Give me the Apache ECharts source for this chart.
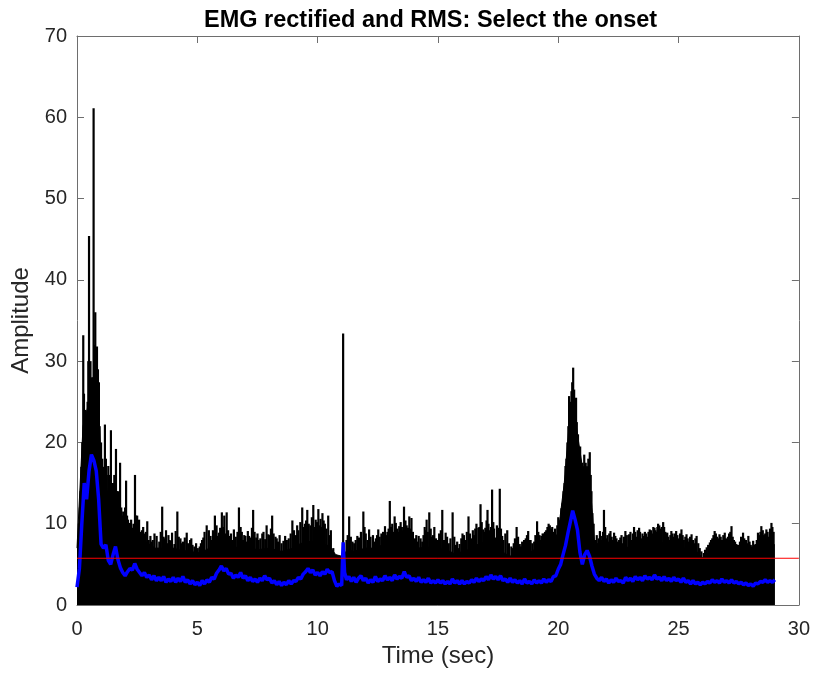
<!DOCTYPE html>
<html>
<head>
<meta charset="utf-8">
<script src="https://cdn.jsdelivr.net/npm/echarts@6/dist/echarts.min.js"></script>
<style>
html,body{margin:0;padding:0;background:#fff;}
#chart{width:813px;height:673px;}
</style>
</head>
<body>
<div id="chart"></div>
<script>
// Axis ticks
var xTicks = [0, 5, 10, 15, 20, 25, 30];
var yTicks = [0, 10, 20, 30, 40, 50, 60, 70];

// Dense (solid) part of the rectified EMG: [time (s), top of solid black]
var emgFloor = [
[0,7],[0.25,22],[0.5,25],[0.75,28],[0.9,24],[1,18],[1.25,14],[1.5,12],[1.75,11],[2,9],[2.25,9],[2.5,8.5],[2.75,8],
[3,7.5],[3.25,7],[3.5,7],[3.75,6.8],[4,7],[4.25,6.8],[4.5,6.7],[4.75,6.6],[5,6.4],[5.25,6.6],[5.5,7],[5.75,7.5],
[6,7.8],[6.25,7.5],[6.5,7],[6.75,7.2],[7,7],[7.25,7],[7.5,6.8],[7.75,6.9],[8,7],[8.25,6.8],[8.5,6.6],[8.75,6.8],
[9,7],[9.25,7.5],[9.5,7.8],[9.75,7.8],[10,8],[10.25,7.6],[10.5,7.2],[10.75,6.2],[11,6],[11.25,6.8],[11.5,6.6],[11.75,6.8],
[12,7],[12.25,7],[12.5,7.2],[12.75,7.4],[13,7.6],[13.25,7.6],[13.5,7.8],[13.75,7.6],[14,7.4],[14.25,7],[14.5,7.2],[14.75,7],
[15,7],[15.25,6.8],[15.5,6.6],[15.75,6.2],[16,6.6],[16.25,6.8],[16.5,7.2],[16.75,7.6],[17,7.8],[17.25,7.6],[17.5,7.2],[17.75,6.4],
[18,6],[18.25,6.6],[18.5,6.2],[18.75,6.4],[19,6.8],[19.25,7],[19.5,7.6],[19.75,7.4],[20,9],[20.25,15],[20.5,24],[20.75,22],
[21,17],[21.25,17],[21.4,12],[21.5,8],[21.75,7],[22,6.8],[22.25,7],[22.5,6.8],[22.75,7],[23,7.2],[23.25,7.4],[23.5,7.2],[23.75,7.4],
[24,7.6],[24.25,7.8],[24.5,7.4],[24.75,7.2],[25,7],[25.25,7],[25.5,6.8],[25.75,6.6],[26,5.8],[26.25,6.4],[26.5,7],[26.75,7.2],
[27,7.2],[27.25,6.8],[27.5,6.4],[27.75,6.6],[28,6.2],[28.25,6.8],[28.5,7.4],[28.75,7.6],[29,7.4]
];

// Individual spikes of the rectified EMG: [time (s), peak amplitude]
var emgSpikes = [
[0.05,8.5],[0.12,12],[0.18,17],[0.26,33.2],[0.32,22],[0.38,19],[0.44,25],[0.5,45.4],[0.56,30],[0.62,28],[0.69,61.1],[0.76,36],
[0.83,31.8],[0.91,27.4],[0.97,19],[1.05,18],[1.16,22.2],[1.24,16],[1.3,17.1],[1.41,21.5],[1.5,15],[1.62,19.2],[1.7,14],[1.79,17.5],
[1.88,11],[1.96,10],[2.04,15.3],[2.12,10.5],[2.2,10.1],[2.3,9.5],[2.41,16],[2.5,11],[2.58,10.5],[2.7,9.2],[2.8,8.8],[2.92,10.3],
[3.05,8.5],[3.15,8],[3.31,8.5],[3.42,7.8],[3.54,12.1],[3.65,8.2],[3.75,7.6],[3.85,8],[3.95,8.9],[4.05,7.5],[4.17,11.5],[4.3,8.2],
[4.4,7.8],[4.56,8.9],[4.7,8],[4.8,7.4],[4.95,7.6],[5.1,7.2],[5.2,8],[5.3,9],[5.39,9.8],[5.48,9.2],[5.6,8],[5.73,11],
[5.85,8.5],[5.95,9.5],[6.02,11.4],[6.12,11],[6.22,11.4],[6.35,8.5],[6.45,8],[6.6,8.4],[6.73,12],[6.85,9],[6.95,8.6],[7.05,7.8],
[7.15,8.5],[7.32,11.7],[7.45,8.3],[7.55,8],[7.7,8.8],[7.88,9.8],[8,8.6],[8.11,11],[8.25,8.4],[8.35,7.8],[8.5,7.6],[8.65,8.5],
[8.8,8.2],[8.95,10.4],[9.1,8.6],[9.2,9.2],[9.36,12],[9.47,10],[9.57,11.7],[9.7,9.8],[9.82,12.3],[9.92,10.5],[10.03,11.8],[10.12,10.6],
[10.2,11.3],[10.3,10],[10.44,11],[10.55,9.2],[10.65,7],[11.06,33.4],[11.2,8],[11.31,10.9],[11.45,7.8],[11.65,8.5],[11.9,11.5],[12,8.8],
[12.14,9.3],[12.3,8.6],[12.42,8.2],[12.52,9.3],[12.65,8.8],[12.8,9.7],[12.9,9],[13,12.8],[13.1,10],[13.2,10.9],[13.3,9.4],[13.39,9.7],
[13.5,9.6],[13.59,12.1],[13.7,9.8],[13.81,10.9],[13.9,10.7],[14.05,8.2],[14.2,8.5],[14.35,7.8],[14.45,9.6],[14.53,10.5],[14.64,11.4],[14.75,8.4],
[14.85,9.6],[15,8],[15.18,11.7],[15.32,8.9],[15.45,7.6],[15.61,11.4],[15.8,7.8],[15.9,7.5],[16.02,8.8],[16.15,8],[16.27,10.9],[16.4,8.2],
[16.5,8.6],[16.6,10],[16.68,9.5],[16.77,12.4],[16.88,9.3],[16.97,9.5],[17.06,11.7],[17.15,9.2],[17.25,14.2],[17.33,9.4],[17.4,8.3],[17.5,9.5],
[17.57,14.3],[17.67,8.5],[17.88,9.2],[18.05,7.2],[18.15,7.6],[18.27,9.6],[18.4,7.5],[18.5,7.8],[18.65,8.2],[18.75,9.1],[18.85,8],[19,7.8],
[19.12,10.3],[19.22,8.6],[19.3,8.5],[19.4,8.8],[19.5,9.2],[19.6,10],[19.7,9.4],[19.8,9],[19.92,8.6],[20,10.8],[20.13,11.9],[20.22,14],
[20.3,17.1],[20.38,20],[20.45,25.7],[20.55,26.3],[20.62,29.2],[20.7,24.5],[20.77,22.5],[20.87,18.3],[20.95,16],[21.08,18.5],[21.2,16.7],[21.31,18.8],
[21.38,14],[21.42,11.3],[21.55,8],[21.63,7.6],[21.73,9.1],[21.82,8],[21.9,11.7],[22,8.2],[22.08,7.8],[22.17,9.1],[22.27,8],[22.37,8.5],
[22.48,7.8],[22.58,8.3],[22.68,7.6],[22.79,9.1],[22.94,8.7],[23.05,8],[23.15,9.6],[23.25,8.4],[23.36,9.5],[23.45,8.2],[23.55,8.5],[23.65,8.8],
[23.8,9.3],[23.9,8.8],[24,9.5],[24.08,9],[24.15,10],[24.25,9.4],[24.36,10.2],[24.45,9],[24.53,8.9],[24.62,8],[24.7,9.1],[24.8,8.4],
[24.9,9.1],[25,8.2],[25.12,9.3],[25.22,8],[25.33,8.7],[25.43,7.8],[25.54,8.7],[25.65,7.6],[25.75,8.5],[25.88,7],[26.17,7.1],[26.3,7.7],
[26.4,8.2],[26.5,9.1],[26.6,8.4],[26.7,8.7],[26.8,8],[26.92,8.9],[27.05,8.4],[27.2,9.7],[27.3,8],[27.4,7.5],[27.55,7.8],[27.68,8.9],
[27.8,8],[27.9,8.5],[28,7.4],[28.1,7.9],[28.2,7.5],[28.3,8.9],[28.44,9.7],[28.55,8.6],[28.65,9.3],[28.75,8.4],[28.86,10.1],[28.95,9],
// smaller spikes in between
[0.08,10],[0.15,14],[0.22,20],[0.29,26],[0.35,24],[0.41,22],[0.47,30],[0.53,26],[0.59,24],[0.65,28],[0.72,32],[0.79,30],
[0.87,29],[0.94,22],[1.0,20],[1.1,17],[1.2,18],[1.35,16],[1.45,15],[1.55,16],[1.66,14],[1.75,13],[1.84,12],[1.92,11.5],
[2.0,12],[2.08,11],[2.16,10],[2.25,10.5],[2.35,10],[2.45,11],[2.55,9.5],[2.62,9],[2.75,9.6],
[2.65,8.6],[2.86,9],[2.98,8],[3.1,7.8],[3.22,8.8],[3.48,9],[3.6,8.4],[3.7,9.2],[3.8,8.6],[3.9,7.9],[4.1,9.1],[4.23,8.4],
[4.35,7.6],[4.48,8.3],[4.62,7.6],[4.75,8.2],[4.88,7.2],[5.02,7],[5.15,7.6],[5.25,8.3],[5.55,8.5],[5.65,9.2],[5.8,9.8],[5.9,8.9],
[6.07,9.6],[6.17,8.8],[6.28,9.2],[6.4,8.8],[6.52,9.3],[6.67,9],[6.8,9.6],[6.9,8],[7.0,8.5],[7.1,9.1],[7.22,8.3],[7.27,9.5],
[7.38,9],[7.5,8.8],[7.62,8.2],[7.75,9],[7.82,8.1],[7.95,8.7],[8.06,9.4],[8.17,8.8],[8.3,8.2],[8.42,8.6],[8.58,7.9],[8.72,8],
[8.88,8.8],[9.02,9.2],[9.15,9.8],[9.28,10.2],[9.42,9.6],[9.52,10.4],[9.63,10],[9.76,10.8],[9.87,9.6],[9.97,10.2],[10.07,9.8],[10.16,9.6],
[10.25,10.4],[10.36,9.4],[10.5,8.6],[11.25,8.6],[11.38,8.4],[11.52,7.6],[11.58,8],[11.72,8.3],[11.8,9],[11.95,9.6],[12.07,8],[12.2,8.4],
[12.36,7.8],[12.47,8.6],[12.58,8.4],[12.72,9],[12.85,8.6],[12.95,9.4],[13.05,9.6],[13.15,9],[13.25,10.1],[13.35,9],[13.45,10.2],[13.55,9.2],
[13.65,10.4],[13.76,9.5],[13.86,9.4],[13.96,9],[14.1,8.6],[14.15,7.8],[14.28,8.2],[14.4,8.6],[14.5,9.2],[14.58,9],[14.7,9.4],[14.8,8.6],
[14.92,8.2],[15.05,8.8],[15.12,9.2],[15.25,8],[15.38,8.4],[15.52,8.2],[15.68,8.4],[15.75,7.4],[15.85,7],[15.97,8.2],[16.08,8.6],[16.2,9],
[16.33,8.8],[16.45,9.2],[16.55,9.4],[16.72,9.6],[16.82,10.2],[16.92,9],[17.02,10.4],[17.1,10],[17.2,9.6],[17.3,10.2],[17.45,9.8],[17.53,9],
[17.62,9.4],[17.72,8],[17.8,8.8],[17.95,7.6],[18.1,7],[18.2,8.2],[18.33,8.4],[18.45,7.2],[18.58,8],[18.7,8.6],[18.8,8],[18.92,7.6],
[19.05,8.6],[19.17,9],[19.27,8],[19.35,8.8],[19.45,9],[19.55,9.6],[19.65,9.8],[19.75,9.6],[19.87,9.4],[19.96,9.8],[20.05,10.4],[20.18,12.5],
[20.26,15],[20.34,18],[20.42,22],[20.5,25],[20.58,27.4],[20.66,26.5],[20.74,25.5],[20.82,21],[20.91,19.5],[21.0,17.5],[21.14,17.5],[21.25,18],
[21.35,16],[21.47,10],[21.6,8.6],[21.68,8.2],[21.77,8.5],[21.86,9],[21.95,9.6],[22.04,8.6],[22.12,8.8],[22.22,8.4],[22.32,8.9],[22.42,8.2],
[22.53,8],[22.63,8.6],[22.73,8.4],[22.85,8.6],[23.0,9],[23.1,8.8],[23.2,9],[23.3,9.2],[23.4,9],[23.5,8.8],[23.6,9],[23.7,8.4],
[23.75,9],[23.85,9.2],[23.95,9.6],[24.04,9.2],[24.12,9.6],[24.2,9.8],[24.3,9.6],[24.4,9.6],[24.49,8.8],[24.57,8.4],[24.66,8.6],[24.75,8.8],
[24.85,8.8],[24.95,8.6],[25.06,8.8],[25.17,8.6],[25.28,8.4],[25.38,8.2],[25.48,8.4],[25.6,8],[25.7,8.2],[25.82,7.6],[25.95,6.6],[26.05,6.4],
[26.1,6.8],[26.23,7.4],[26.35,8],[26.45,8.6],[26.55,8.8],[26.65,8.2],[26.75,8.4],[26.86,8.6],[26.97,8.2],[27.1,8.8],[27.15,9],[27.25,8.4],
[27.35,7.8],[27.47,7.4],[27.6,8.4],[27.73,8.2],[27.85,7.6],[27.95,7.8],[28.05,7.2],[28.15,7.4],[28.25,8],[28.35,8.6],[28.4,9],[28.5,9.2],
[28.6,8.8],[28.7,9],[28.8,9.4],[28.9,9.6]
];

// RMS envelope (blue): [time (s), RMS]
var rms = [
[0,2.2],[0.1,4.5],[0.2,10],[0.3,15],[0.4,13],[0.5,16.5],[0.6,18.5],[0.7,17.8],[0.8,16.5],[0.9,13],[1,7.5],[1.1,7],
[1.2,7.4],[1.3,5.5],[1.4,5],[1.5,6.2],[1.6,7.2],[1.7,5.6],[1.8,4.6],[1.9,4],[2,3.6],[2.1,4.1],[2.2,4.5],[2.3,4.3],
[2.4,5.1],[2.5,4.4],[2.6,4],[2.7,3.6],[2.8,4],[2.9,3.4],[3,3.7],[3.1,3.1],[3.2,3.6],[3.3,3],[3.4,3.4],[3.5,3],
[3.6,3.5],[3.7,2.8],[3.8,3.2],[3.9,2.9],[4,3.4],[4.1,2.8],[4.2,3.3],[4.3,2.9],[4.4,3.5],[4.5,2.8],[4.6,3.1],[4.7,2.6],
[4.8,3],[4.9,2.5],[5,2.8],[5.1,2.4],[5.2,3],[5.3,2.6],[5.4,3.1],[5.5,2.8],[5.6,3.4],[5.7,3.2],[5.8,3.9],[5.9,4.3],
[6,4.8],[6.1,4.2],[6.2,4.5],[6.3,3.8],[6.4,3.9],[6.5,3.3],[6.6,3.7],[6.7,3.4],[6.8,4],[6.9,3.3],[7,3.6],[7.1,3],
[7.2,3.4],[7.3,2.9],[7.4,3.2],[7.5,2.8],[7.6,3.3],[7.7,3],[7.8,3.6],[7.9,3.1],[8,3.3],[8.1,2.7],[8.2,3],[8.3,2.5],
[8.4,2.9],[8.5,2.4],[8.6,2.8],[8.7,2.5],[8.8,3],[8.9,2.6],[9,3],[9.1,2.9],[9.2,3.4],[9.3,3.2],[9.4,3.8],[9.5,4.1],
[9.6,4.5],[9.7,4],[9.8,4.3],[9.9,3.7],[10,4],[10.1,3.6],[10.2,4.1],[10.3,3.8],[10.4,4.4],[10.5,4],[10.6,4.1],[10.7,3],
[10.8,2.3],[10.9,2.6],[11,2.4],[11.06,7.7],[11.12,4],[11.2,3.1],[11.3,3.5],[11.4,2.9],[11.5,3.4],[11.6,2.8],[11.7,3.3],[11.8,3.6],
[11.9,3],[12,3.3],[12.1,2.7],[12.2,3.1],[12.3,2.8],[12.4,3.5],[12.5,2.9],[12.6,3.2],[12.7,3],[12.8,3.6],[12.9,3.1],[13,3.4],
[13.1,3],[13.2,3.7],[13.3,3.2],[13.4,3.5],[13.5,3.3],[13.6,4.1],[13.7,3.4],[13.8,3.6],[13.9,3],[14,3.3],[14.1,2.9],[14.2,3.4],
[14.3,2.8],[14.4,3.1],[14.5,2.8],[14.6,3.3],[14.7,2.7],[14.8,3],[14.9,2.7],[15,3.1],[15.1,2.7],[15.2,3],[15.3,2.6],[15.4,2.9],
[15.5,2.6],[15.6,3.2],[15.7,2.7],[15.8,3],[15.9,2.6],[16,3],[16.1,2.6],[16.2,2.9],[16.3,2.7],[16.4,3.1],[16.5,2.8],[16.6,3.3],
[16.7,2.9],[16.8,3.2],[16.9,3],[17,3.5],[17.1,3.1],[17.2,3.7],[17.3,3.2],[17.4,3.5],[17.5,3.1],[17.6,3.6],[17.7,3],[17.8,3.2],
[17.9,2.8],[18,3.3],[18.1,2.8],[18.2,3.1],[18.3,2.7],[18.4,3],[18.5,2.6],[18.6,3.2],[18.7,2.7],[18.8,2.9],[18.9,2.6],[19,3.1],
[19.1,2.7],[19.2,3],[19.3,2.7],[19.4,3.2],[19.5,2.8],[19.6,3.1],[19.7,2.9],[19.8,3.5],[19.9,3.6],[20,4.4],[20.1,5],[20.2,6.2],
[20.3,7.3],[20.4,8.8],[20.5,10.2],[20.6,11.6],[20.7,10.5],[20.8,9.2],[20.9,6.5],[21,5],[21.1,6.2],[21.2,6.7],[21.3,6],[21.4,4.8],
[21.5,3.8],[21.6,3.3],[21.7,3],[21.8,3.4],[21.9,2.9],[22,3.2],[22.1,2.7],[22.2,3.1],[22.3,2.8],[22.4,3.3],[22.5,2.9],[22.6,3],
[22.7,2.7],[22.8,3.4],[22.9,3],[23,3.3],[23.1,2.9],[23.2,3.5],[23.3,3.1],[23.4,3.4],[23.5,3],[23.6,3.6],[23.7,3.2],[23.8,3.4],
[23.9,3.1],[24,3.7],[24.1,3.2],[24.2,3.4],[24.3,3],[24.4,3.5],[24.5,3],[24.6,3.3],[24.7,2.9],[24.8,3.4],[24.9,3],[25,3.2],
[25.1,2.8],[25.2,3.3],[25.3,2.8],[25.4,3],[25.5,2.6],[25.6,3],[25.7,2.6],[25.8,2.8],[25.9,2.5],[26,2.8],[26.1,2.6],[26.2,2.9],
[26.3,2.7],[26.4,3.1],[26.5,2.8],[26.6,3],[26.7,2.7],[26.8,3.2],[26.9,2.8],[27,3],[27.1,2.7],[27.2,3.1],[27.3,2.7],[27.4,2.9],
[27.5,2.6],[27.6,2.8],[27.7,2.5],[27.8,2.7],[27.9,2.4],[28,2.6],[28.1,2.3],[28.2,2.7],[28.3,2.6],[28.4,2.9],[28.5,2.8],[28.6,3.1],
[28.7,2.8],[28.8,3],[28.9,2.8],[29,3.1]
];

// Onset threshold (red)
var threshold = [[0,5.75],[30,5.75]];

var FONT = "'Liberation Sans', Arial, Helvetica, sans-serif";
var AX = '#262626';
var LINE = '#6e6e6e';

function axisBase(extra){
  var o = {
    type:'value',
    axisLine:{show:true, onZero:false, lineStyle:{color:LINE, width:1}},
    axisTick:{show:true, inside:true, length:7, lineStyle:{color:LINE, width:1}},
    splitLine:{show:false},
    axisLabel:{color:AX, fontFamily:FONT, fontSize:20}
  };
  for (var k in extra) o[k] = extra[k];
  return o;
}

var chart = echarts.init(document.getElementById('chart'), null, {renderer:'canvas'});
chart.setOption({
  backgroundColor:'#ffffff',
  animation:false,
  title:{
    text:'EMG rectified and RMS: Select the onset',
    left:199, top:4,
    textStyle:{fontFamily:FONT, fontSize:23.5, fontWeight:'bold', color:'#000'}
  },
  grid:{left:77, right:14, top:36, bottom:68, containLabel:false},
  xAxis:[
    axisBase({min:xTicks[0], max:xTicks[xTicks.length-1], interval:5, position:'bottom',
      name:'Time (sec)', nameLocation:'middle', nameGap:35,
      nameTextStyle:{fontFamily:FONT, fontSize:24, color:AX},
      axisLabel:{color:AX, fontFamily:FONT, fontSize:20, margin:14}}),
    axisBase({min:xTicks[0], max:xTicks[xTicks.length-1], interval:5, position:'top',
      axisLabel:{show:false}})
  ],
  yAxis:[
    axisBase({min:yTicks[0], max:yTicks[yTicks.length-1], interval:10, position:'left',
      name:'Amplitude', nameLocation:'middle', nameGap:40, nameRotate:90,
      nameTextStyle:{fontFamily:FONT, fontSize:24, color:AX},
      axisLabel:{color:AX, fontFamily:FONT, fontSize:20, margin:10}}),
    axisBase({min:yTicks[0], max:yTicks[yTicks.length-1], interval:10, position:'right',
      axisLabel:{show:false}})
  ],
  series:[
    {
      name:'EMG dense', type:'line', data:emgFloor, xAxisIndex:0, yAxisIndex:0,
      symbol:'none', smooth:false,
      lineStyle:{color:'#000', width:1},
      areaStyle:{color:'#000', opacity:1},
      z:2
    },
    {
      name:'EMG rectified', type:'bar', data:emgSpikes, xAxisIndex:0, yAxisIndex:0,
      barWidth:2.2, barGap:'-100%',
      itemStyle:{color:'#000'},
      z:3
    },
    {
      name:'RMS', type:'line', data:rms, xAxisIndex:0, yAxisIndex:0,
      symbol:'none', smooth:false,
      lineStyle:{color:'#0000ff', width:3.5},
      z:4
    },
    {
      name:'Threshold', type:'line', data:threshold, xAxisIndex:0, yAxisIndex:0,
      symbol:'none',
      lineStyle:{color:'#ff0000', width:1},
      z:5
    }
  ]
});
</script>
</body>
</html>
